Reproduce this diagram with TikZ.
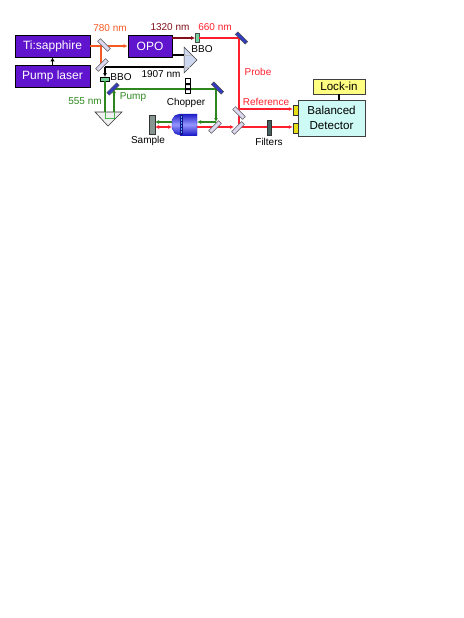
\documentclass[tikz,border=0pt]{standalone}
\usepackage{fontspec}
\setmainfont{Liberation Sans}
\usetikzlibrary{arrows.meta,calc}
\definecolor{boxpurple}{RGB}{96,20,205}
\definecolor{beamorange}{RGB}{245,90,35}
\definecolor{beamgreen}{RGB}{45,135,30}
\definecolor{beamred}{RGB}{255,30,45}
\definecolor{beamdark}{RGB}{130,15,25}
\definecolor{lav}{RGB}{222,215,240}
\definecolor{dblue}{RGB}{50,60,190}
\definecolor{prismfill}{RGB}{205,215,240}
\definecolor{detfill}{RGB}{205,250,245}
\definecolor{lockfill}{RGB}{255,255,130}
\definecolor{samplec}{RGB}{135,150,145}
\definecolor{filterc}{RGB}{70,95,95}
\definecolor{objmid}{RGB}{150,150,255}
\definecolor{objdark}{RGB}{30,30,200}
\definecolor{objstrip}{RGB}{20,20,140}
\definecolor{objdot}{RGB}{90,170,250}
\tikzset{
 x=1pt,y=-1pt,
 lbl/.style={font=\fontsize{10}{12}\selectfont,inner sep=0pt},
 laser/.style={draw=black,line width=0.7pt,fill=boxpurple,text=white,font=\fontsize{12}{14}\selectfont,inner sep=0pt,minimum height=22pt},
 bs/.style={draw=gray!70!black,line width=0.5pt,fill=lav,minimum width=14pt,minimum height=4pt,inner sep=0pt},
 hr/.style={draw=gray!60!black,line width=0.4pt,fill=dblue,minimum width=14pt,minimum height=3.5pt,inner sep=0pt},
 beam/.style={line width=1.2pt},
 tip/.style={-{Latex[length=4pt,width=4pt]}},
 dtip/.style={{Latex[length=4pt,width=4pt]}-{Latex[length=4pt,width=4pt]}},
 pad/.style={draw=gray!40!black,line width=0.5pt,fill=yellow!90!black,minimum width=5pt,minimum height=10pt,inner sep=0pt},
}
\begin{document}
\begin{tikzpicture}
\useasboundingbox (0,0) rectangle (463,618);
% boxes
\node[laser,minimum width=75pt] (ti) at (52.5,46) {Ti:sapphire};
\node[laser,minimum width=75pt] (pump) at (52.5,76) {Pump laser};
\node[laser,minimum width=44pt] (opo) at (150,46) {OPO};
\node[draw=gray!50!black,line width=0.8pt,fill=detfill,minimum width=67pt,minimum height=36pt,inner sep=0pt,align=center,font=\fontsize{11.6}{14.5}\selectfont] (det) at (331.5,118) {Balanced\\Detector};
\node[draw=gray!50!black,line width=0.8pt,fill=lockfill,minimum width=52pt,minimum height=15pt,inner sep=0pt,font=\fontsize{11.6}{13}\selectfont] (lock) at (339,86.5) {Lock-in};
\node[pad] (pa) at (295.5,110) {};
\node[pad] (pb) at (295.5,128) {};
% optics anchors
\coordinate (m1) at (101,46);
\coordinate (m2) at (101,65);
\coordinate (m3) at (114,89);
\coordinate (m4) at (216,89);
\coordinate (m5) at (216,122);
\coordinate (m6) at (239,109);
\coordinate (m7) at (239,127);
\coordinate (m8) at (239,38);
\coordinate (pl) at (184,55);
\coordinate (pr) at (184,67);
\coordinate (bk) at (105,67);
\coordinate (gd) at (105,112);
\coordinate (gu) at (114,112);
% black beams
\draw[-{Latex[length=4pt,width=4.5pt]},line width=1.1pt] (pump.north) -- (ti.south);
\draw[line width=1.3pt] (opo.east |- pl) -- (pl);
\draw[line width=1.6pt] (pr) -- (bk);
\draw[beamorange,beam] (m1) -- (m2);
\draw[beamorange,beam,tip] (ti.east |- m1) -- (opo.west |- m1);
\draw[line width=1.3pt,tip] (bk) -- (105,77);
% prisms
\draw[gray!50!black,line width=0.5pt,fill=prismfill] (184,47) -- (197,60) -- (184,73) -- cycle;
\draw[gray!50!white,line width=0.4pt] (184,55) -- (192,55) (184,67) -- (190,67);
\draw[gray!40!black,line width=0.6pt,fill=gray!12] (95,112) -- (122,112) -- (108,126) -- cycle;
% BBO crystals
\node[draw=black,line width=0.4pt,fill=teal!60!green!55,minimum width=9pt,minimum height=4pt,inner sep=0pt] (bboa) at (105,79) {};
\node[draw=black!70,line width=0.4pt,fill=teal!60!green!55,minimum width=3.5pt,minimum height=9pt,inner sep=0pt] (bbob) at (197,38) {};
% green path
\draw[beamgreen,beam] (bboa.south) -- (gd);
\draw[green!45!gray,line width=0.8pt] (gd) -- (105,118) -- (114,118) -- (gu);
\draw[beamgreen,beam,tip] (gu) -- (m3);
\draw[beamgreen,line width=1.5pt] (m3) -- (m4);
\draw[beamgreen,beam,tip] (m4) -- (m5);
\draw[beamgreen,beam,tip] (m5) -- (197,122);
\draw[beamgreen,beam,tip] (172,122) -- (155,122);
% red path
\draw[beamdark,beam,tip] (opo.east |- bbob) -- (bbob.west);
\draw[beamred,beam] (bbob.east) -- (m8);
\draw[beamred,beam] (m8) -- (m7);
\draw[beamred,beam,tip] (m6) -- (m6 -| pa.west);
\draw[beamred,beam,tip] (m7) -- (m7 -| pb.west);
\draw[beamred,beam,tip] (197,127) -- (234,127);
\draw[beamred,beam,dtip] (155,127) -- (172,127);
% mirrors
\node[bs,rotate=-45] (ma) at (104,45) {};
\node[bs,rotate=45] (mb) at (102,65) {};
\node[hr,rotate=45] (mc) at (113,89) {};
\node[hr,rotate=-45] (md) at (217.5,88) {};
\node[bs,rotate=45] (me) at (215,127) {};
\node[bs,rotate=-45] (mf) at (239,113) {};
\node[bs,rotate=45] (mg) at (238,128) {};
\node[hr,rotate=-45] (mh) at (241.5,38) {};
% chopper
\node[draw=black,line width=0.6pt,fill=white,minimum width=5pt,minimum height=15pt,inner sep=0pt] (chop) at (188,85.5) {};
\fill (185.5,83) rectangle (190.5,85) (185.5,88) rectangle (190.5,90);
% filter
\node[draw=gray!40!black,line width=0.4pt,fill=filterc,minimum width=4pt,minimum height=15pt,inner sep=0pt] (filt) at (269,127.5) {};
% sample
\node[draw=gray!40!black,line width=0.5pt,fill=samplec,minimum width=6pt,minimum height=19pt,inner sep=0pt] (samp) at (152,124.5) {};
% objective
\shade[top color=objdark,bottom color=objdark,middle color=objmid] (172,120) -- (175,115.5) -- (180,114) -- (180,135) -- (175,133.5) -- (172,128) -- cycle;
\shade[top color=objdark,bottom color=objdark,middle color=objmid] (180,114) rectangle (197,135);
\draw[objdark,line width=0.4pt] (172,120) -- (175,115.5) -- (180,114) -- (197,114) -- (197,135) -- (180,135) -- (175,133.5) -- (172,128) -- cycle;
\draw[objstrip,line width=3pt] (181.5,114.5) -- (181.5,134.5);
\draw[objdot,line width=1.6pt,dash pattern=on 1.6pt off 1.4pt] (181.5,116) -- (181.5,133);
% connectors for detector
\draw[line width=2.2pt] (lock.south) -- (lock.south |- det.north);
% labels
\node[lbl,text=beamorange] (t780) at (110,28) {780 nm};
\node[lbl,text=beamdark] (t1320) at (170,27) {1320 nm};
\node[lbl,text=beamred] (t660) at (215,27) {660 nm};
\node[lbl] (tbboa) at (121,77) {BBO};
\node[lbl] (tbbob) at (202,49) {BBO};
\node[lbl] (t1907) at (161,74) {1907 nm};
\node[lbl,text=beamgreen] (t555) at (85,101) {555 nm};
\node[lbl,text=beamgreen] (tpump) at (133,97) {Pump};
\node[lbl] (tchop) at (186,103) {Chopper};
\node[lbl,text=beamred] (tprobe) at (258,72) {Probe};
\node[lbl,text=beamred] (tref) at (266,102) {Reference};
\node[lbl] (tsamp) at (148,141) {Sample};
\node[lbl] (tfilt) at (269,142) {Filters};
\end{tikzpicture}
\end{document}
